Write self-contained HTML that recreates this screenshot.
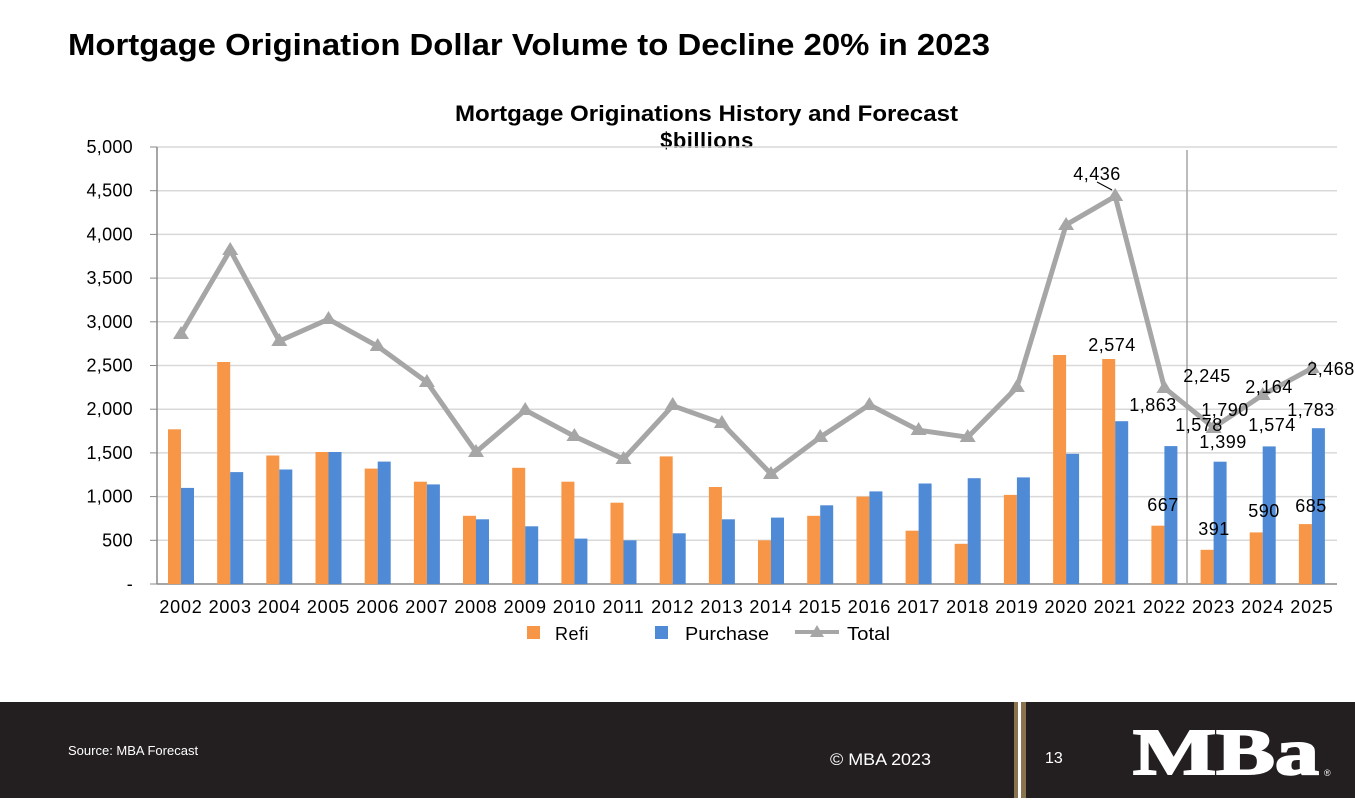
<!DOCTYPE html>
<html><head><meta charset="utf-8"><style>
html,body{margin:0;padding:0;background:#fff;}
body{width:1355px;height:798px;overflow:hidden;position:relative;font-family:"Liberation Sans",Arial,sans-serif;}
</style></head><body>
<svg width="1355" height="798" viewBox="0 0 1355 798" xmlns="http://www.w3.org/2000/svg" font-family="Liberation Sans, Arial, sans-serif">
<text x="68" y="55" font-size="31" font-weight="bold" fill="#000" textLength="922" lengthAdjust="spacingAndGlyphs">Mortgage Origination Dollar Volume to Decline 20% in 2023</text>
<text x="455" y="121" font-size="22" font-weight="bold" textLength="503" lengthAdjust="spacingAndGlyphs">Mortgage Originations History and Forecast</text>
<text x="707" y="148" font-size="22" font-weight="bold" text-anchor="middle" letter-spacing="0.5">$billions</text>
<g stroke="#d9d9d9" stroke-width="1.5">
<line x1="157" y1="147" x2="1337" y2="147"/><line x1="157" y1="190.7" x2="1337" y2="190.7"/><line x1="157" y1="234.4" x2="1337" y2="234.4"/><line x1="157" y1="278.1" x2="1337" y2="278.1"/><line x1="157" y1="321.8" x2="1337" y2="321.8"/><line x1="157" y1="365.5" x2="1337" y2="365.5"/><line x1="157" y1="409.2" x2="1337" y2="409.2"/><line x1="157" y1="452.9" x2="1337" y2="452.9"/><line x1="157" y1="496.6" x2="1337" y2="496.6"/><line x1="157" y1="540.3" x2="1337" y2="540.3"/>
</g>
<g stroke="#888">
<line x1="150" y1="147" x2="157" y2="147"/><line x1="150" y1="190.7" x2="157" y2="190.7"/><line x1="150" y1="234.4" x2="157" y2="234.4"/><line x1="150" y1="278.1" x2="157" y2="278.1"/><line x1="150" y1="321.8" x2="157" y2="321.8"/><line x1="150" y1="365.5" x2="157" y2="365.5"/><line x1="150" y1="409.2" x2="157" y2="409.2"/><line x1="150" y1="452.9" x2="157" y2="452.9"/><line x1="150" y1="496.6" x2="157" y2="496.6"/><line x1="150" y1="540.3" x2="157" y2="540.3"/><line x1="150" y1="584" x2="157" y2="584"/>
</g>
<line x1="157" y1="147" x2="157" y2="584" stroke="#888" stroke-width="1.5"/>
<line x1="157" y1="584" x2="1337" y2="584" stroke="#888" stroke-width="1.5"/>
<line x1="1187" y1="150" x2="1187" y2="584" stroke="#a6a6a6" stroke-width="1.5"/>
<g font-size="18" text-anchor="end" fill="#000" letter-spacing="0.3">
<text x="133" y="153">5,000</text><text x="133" y="196.7">4,500</text><text x="133" y="240.4">4,000</text><text x="133" y="284.1">3,500</text><text x="133" y="327.8">3,000</text><text x="133" y="371.5">2,500</text><text x="133" y="415.2">2,000</text><text x="133" y="458.9">1,500</text><text x="133" y="502.6">1,000</text><text x="133" y="546.3">500</text><text x="133" y="590">-</text>
</g>
<g fill="#f79646">
<rect x="168" y="429.3" width="13" height="154.7"/><rect x="217.2" y="362" width="13" height="222"/><rect x="266.3" y="455.5" width="13" height="128.5"/><rect x="315.5" y="452" width="13" height="132"/><rect x="364.7" y="468.6" width="13" height="115.4"/><rect x="413.9" y="481.7" width="13" height="102.3"/><rect x="463" y="515.8" width="13" height="68.2"/><rect x="512.2" y="467.8" width="13" height="116.2"/><rect x="561.4" y="481.7" width="13" height="102.3"/><rect x="610.5" y="502.7" width="13" height="81.3"/><rect x="659.7" y="456.4" width="13" height="127.6"/><rect x="708.9" y="487" width="13" height="97"/><rect x="758" y="540.3" width="13" height="43.7"/><rect x="807.2" y="515.8" width="13" height="68.2"/><rect x="856.4" y="496.6" width="13" height="87.4"/><rect x="905.6" y="530.7" width="13" height="53.3"/><rect x="954.7" y="543.8" width="13" height="40.2"/><rect x="1003.9" y="494.9" width="13" height="89.1"/><rect x="1053.1" y="355" width="13" height="229"/><rect x="1102.2" y="359" width="13" height="225"/><rect x="1151.4" y="525.7" width="13" height="58.3"/><rect x="1200.6" y="549.8" width="13" height="34.2"/><rect x="1249.7" y="532.4" width="13" height="51.6"/><rect x="1298.9" y="524.1" width="13" height="59.9"/>
</g>
<g fill="#4f8ad6">
<rect x="181" y="487.9" width="13" height="96.1"/><rect x="230.2" y="472.1" width="13" height="111.9"/><rect x="279.3" y="469.5" width="13" height="114.5"/><rect x="328.5" y="452" width="13" height="132"/><rect x="377.7" y="461.6" width="13" height="122.4"/><rect x="426.9" y="484.4" width="13" height="99.6"/><rect x="476" y="519.3" width="13" height="64.7"/><rect x="525.2" y="526.3" width="13" height="57.7"/><rect x="574.4" y="538.6" width="13" height="45.4"/><rect x="623.5" y="540.3" width="13" height="43.7"/><rect x="672.7" y="533.3" width="13" height="50.7"/><rect x="721.9" y="519.3" width="13" height="64.7"/><rect x="771" y="517.6" width="13" height="66.4"/><rect x="820.2" y="505.3" width="13" height="78.7"/><rect x="869.4" y="491.4" width="13" height="92.6"/><rect x="918.6" y="483.5" width="13" height="100.5"/><rect x="967.7" y="478.2" width="13" height="105.8"/><rect x="1016.9" y="477.4" width="13" height="106.6"/><rect x="1066.1" y="453.8" width="13" height="130.2"/><rect x="1115.2" y="421.2" width="13" height="162.8"/><rect x="1164.4" y="446.1" width="13" height="137.9"/><rect x="1213.6" y="461.7" width="13" height="122.3"/><rect x="1262.7" y="446.4" width="13" height="137.6"/><rect x="1311.9" y="428.2" width="13" height="155.8"/>
</g>
<polyline fill="none" stroke="#a6a6a6" stroke-width="5" stroke-linejoin="round" points="181,334 230.2,250.1 279.3,341 328.5,319.2 377.7,346.3 426.9,382.1 476,452 525.2,410.1 574.4,436.3 623.5,459 672.7,405.7 721.9,423.2 771,473.9 820.2,437.2 869.4,404.8 918.6,430.2 967.7,437.2 1016.9,387.4 1066.1,224.8 1115.2,196.3 1164.4,387.8 1213.6,427.6 1262.7,394.9 1311.9,368.3"/>
<g fill="#a6a6a6">
<path d="M181,326 l8,13 h-16z"/><path d="M230.2,242 l8,13 h-16z"/><path d="M279.3,333 l8,13 h-16z"/><path d="M328.5,311 l8,13 h-16z"/><path d="M377.7,338 l8,13 h-16z"/><path d="M426.9,374 l8,13 h-16z"/><path d="M476,444 l8,13 h-16z"/><path d="M525.2,402 l8,13 h-16z"/><path d="M574.4,428 l8,13 h-16z"/><path d="M623.5,451 l8,13 h-16z"/><path d="M672.7,397 l8,13 h-16z"/><path d="M721.9,415 l8,13 h-16z"/><path d="M771,466 l8,13 h-16z"/><path d="M820.2,429 l8,13 h-16z"/><path d="M869.4,397 l8,13 h-16z"/><path d="M918.6,422 l8,13 h-16z"/><path d="M967.7,429 l8,13 h-16z"/><path d="M1016.9,379 l8,13 h-16z"/><path d="M1066.1,217 l8,13 h-16z"/><path d="M1115.2,188 l8,13 h-16z"/><path d="M1164.4,380 l8,13 h-16z"/><path d="M1213.6,420 l8,13 h-16z"/><path d="M1262.7,387 l8,13 h-16z"/><path d="M1311.9,360 l8,13 h-16z"/>
</g>
<line x1="1112" y1="190" x2="1097" y2="182" stroke="#000"/>
<g font-size="18" text-anchor="middle" fill="#000" letter-spacing="0.5">
<text x="1097" y="180">4,436</text>
<text x="1112" y="351">2,574</text>
<text x="1153" y="411">1,863</text>
<text x="1207" y="382">2,245</text>
<text x="1199" y="431">1,578</text>
<text x="1225" y="416">1,790</text>
<text x="1223" y="448">1,399</text>
<text x="1269" y="393">2,164</text>
<text x="1272" y="431">1,574</text>
<text x="1331" y="375">2,468</text>
<text x="1311" y="416">1,783</text>
<text x="1163" y="511">667</text>
<text x="1214" y="535">391</text>
<text x="1264" y="517">590</text>
<text x="1311" y="512">685</text>
</g>
<g font-size="18" text-anchor="middle" fill="#000" letter-spacing="0.8">
<text x="181" y="613">2002</text><text x="230.2" y="613">2003</text><text x="279.3" y="613">2004</text><text x="328.5" y="613">2005</text><text x="377.7" y="613">2006</text><text x="426.9" y="613">2007</text><text x="476" y="613">2008</text><text x="525.2" y="613">2009</text><text x="574.4" y="613">2010</text><text x="623.5" y="613">2011</text><text x="672.7" y="613">2012</text><text x="721.9" y="613">2013</text><text x="771" y="613">2014</text><text x="820.2" y="613">2015</text><text x="869.4" y="613">2016</text><text x="918.6" y="613">2017</text><text x="967.7" y="613">2018</text><text x="1016.9" y="613">2019</text><text x="1066.1" y="613">2020</text><text x="1115.2" y="613">2021</text><text x="1164.4" y="613">2022</text><text x="1213.6" y="613">2023</text><text x="1262.7" y="613">2024</text><text x="1311.9" y="613">2025</text>
</g>
<rect x="527" y="626" width="13" height="13" fill="#f79646"/>
<text x="555" y="640" font-size="18" letter-spacing="0.5">Refi</text>
<rect x="655" y="626" width="13" height="13" fill="#4f8ad6"/>
<text x="685" y="640" font-size="18" textLength="84" lengthAdjust="spacingAndGlyphs">Purchase</text>
<line x1="795" y1="632" x2="839" y2="632" stroke="#a6a6a6" stroke-width="4"/>
<path d="M817,625 l7,12 h-14z" fill="#a6a6a6"/>
<text x="847" y="640" font-size="18" textLength="43" lengthAdjust="spacingAndGlyphs">Total</text>
<rect x="0" y="702" width="1355" height="96" fill="#231f20"/>
<rect x="1014" y="702" width="4" height="96" fill="#8a7450"/>
<rect x="1018" y="702" width="3" height="96" fill="#fff"/>
<rect x="1021" y="702" width="5" height="96" fill="#8a7450"/>
<text x="68" y="755" font-size="13" fill="#fff">Source: MBA Forecast</text>
<text x="830" y="765" font-size="17" fill="#fff" textLength="101" lengthAdjust="spacingAndGlyphs">© MBA 2023</text>
<text x="1045" y="763" font-size="16" fill="#fff">13</text>
<text x="1133" y="774" font-size="66" font-weight="bold" font-family="Liberation Serif, serif" fill="#fff" stroke="#fff" stroke-width="2" textLength="186" lengthAdjust="spacingAndGlyphs">MBa</text>
<text x="1324" y="776" font-size="9" fill="#fff">®</text>
</svg>
</body></html>
